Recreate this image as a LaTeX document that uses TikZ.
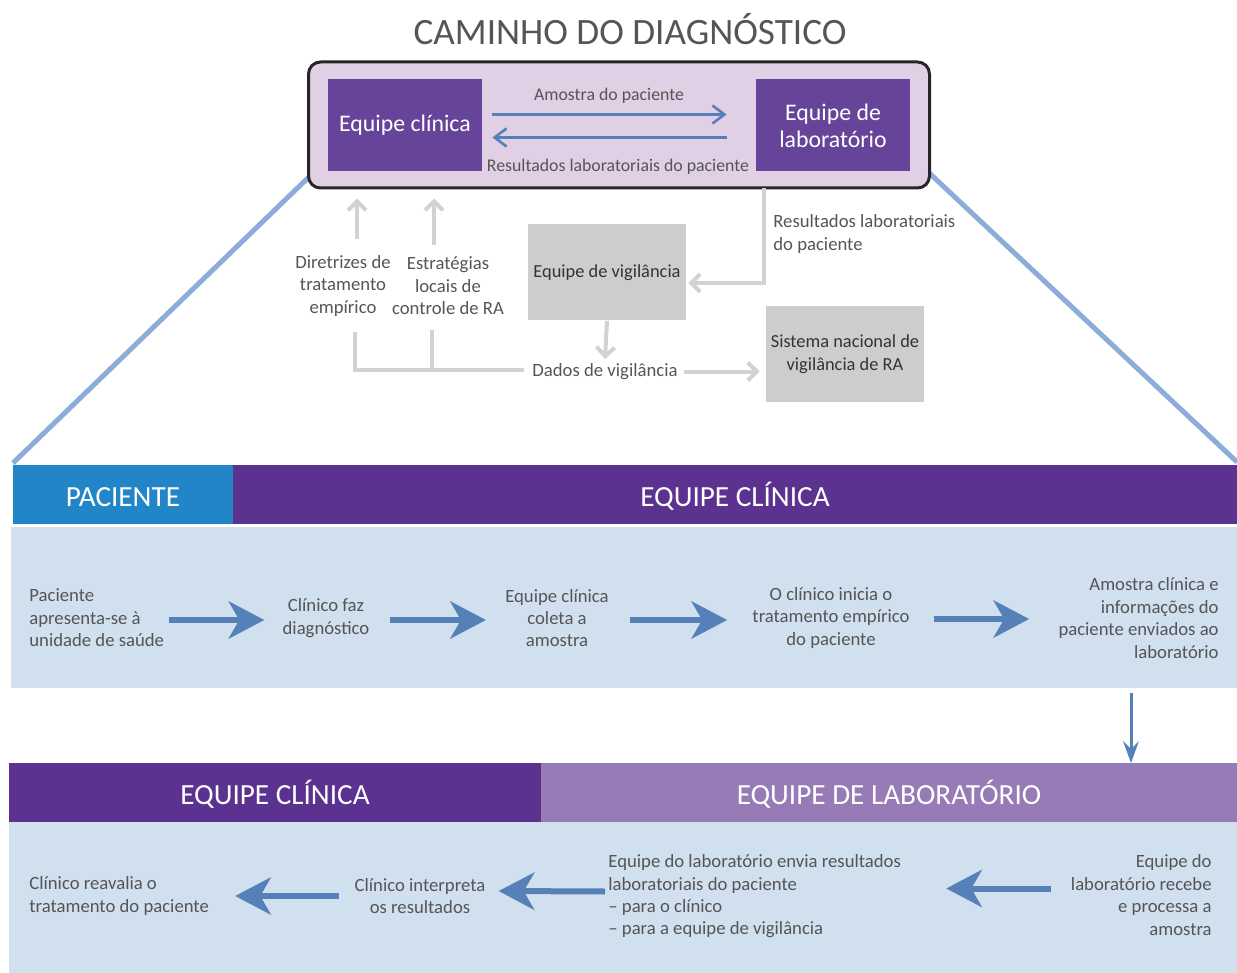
\documentclass[tikz,border=0pt]{standalone}
\usepackage{fontspec}
\setmainfont{Carlito}
\usetikzlibrary{calc,arrows.meta,positioning}

\definecolor{titlegray}{HTML}{555555}
\definecolor{textgray}{HTML}{555555}
\definecolor{boxpurple}{HTML}{65449A}
\definecolor{framefill}{HTML}{E1CFE6}
\definecolor{hdrblue}{HTML}{2285C8}
\definecolor{hdrpurple}{HTML}{5C3291}
\definecolor{hdrlilac}{HTML}{967BB6}
\definecolor{panelblue}{HTML}{D0E0EE}
\definecolor{arrowblue}{HTML}{5680B8}
\definecolor{zoomblue}{HTML}{8CACDA}
\definecolor{linegray}{HTML}{D2D2D2}
\definecolor{boxgray}{HTML}{CDCDCD}

\newdimen\px \px=0.5pt

\tikzset{
  txt/.style={text=textgray, font=\fontsize{9.35}{11.2}\selectfont, inner sep=0pt, align=center},
  smalltxt/.style={txt, font=\fontsize{8.9}{11.2}\selectfont},
  hdr/.style={text=white, font=\fontsize{14.6}{16}\selectfont, inner sep=0pt, outer sep=0pt,
    text height=11.7pt, text depth=0pt, minimum height=59\px},
  panel/.style={fill=panelblue, inner sep=0pt},
  teambox/.style={fill=boxpurple, text=white, font=\fontsize{11.9}{13.5}\selectfont, align=center,
    inner sep=0pt, minimum width=154\px, minimum height=92\px},
  graybox/.style={fill=boxgray, text=black!80, font=\fontsize{9.2}{11.2}\selectfont, align=center,
    inner sep=0pt, minimum width=158\px, minimum height=96\px},
  flow/.style={draw=arrowblue, line width=3pt, -{Stealth[length=18pt,width=19pt,inset=5.5pt,line width=0pt]}},
  downflow/.style={draw=arrowblue, line width=1.5pt, -{Stealth[length=11pt,width=8pt,inset=4pt,line width=0pt]}},
  thinflow/.style={draw=arrowblue, line width=1.3pt, -{Straight Barb[length=6pt,width=9pt]}},
  grayline/.style={draw=linegray, line width=2pt},
  grayflow/.style={grayline, -{Straight Barb[length=4.5pt,width=9pt]}},
}

\begin{document}
\begin{tikzpicture}[x=0.5pt,y=-0.5pt]
  \useasboundingbox (0,0) rectangle (1237,973);

  %% Title and the zoomed frame
  \node[text=titlegray, font=\fontsize{18.6}{22}\selectfont, inner sep=0pt] (title) at (630,29.5) {CAMINHO DO DIAGNÓSTICO};
  \coordinate (zoomL) at (13,463);
  \coordinate (zoomR) at (1237,462);
  \draw[zoomblue, line width=2.5pt] (zoomL) -- (312,174);
  \draw[zoomblue, line width=2.5pt] (zoomR) -- (926,170);
  \node[draw=black!85, line width=1.5pt, fill=framefill, rounded corners=6pt,
    minimum width=621\px, minimum height=126\px] (frame) at (619,125) {};
  \node[teambox] (clin) at (405,125.5) {Equipe clínica};
  \node[teambox] (lab) at (833,125.5) {Equipe de\\laboratório};
  \draw[thinflow] ($(clin.east)+(10,-11)$) -- ($(lab.west)+(-29,-11)$);
  \draw[thinflow] ($(lab.west)+(-29,12)$) -- ($(clin.east)+(10,12)$);
  \node[smalltxt] (amostra) at (609,96) {Amostra do paciente};
  \node[smalltxt] (result) at (618,167) {Resultados laboratoriais do paciente};

  %% Surveillance part (gray)
  \node[graybox] (vig) at (607,272.5) {Equipe de vigilância};
  \node[graybox] (sis) at (845,354) {Sistema nacional de\\vigilância de RA};
  \node[txt] (diret) at (343,286) {Diretrizes de\\tratamento\\empírico};
  \node[txt] (estrat) at (448,286) {Estratégias\\locais de\\controle de RA};
  \node[txt] (dados) at (605,371.5) {Dados de vigilância};
  \node[txt, align=left, anchor=west] (reslab) at (773,234) {Resultados laboratoriais\\do paciente};
  \coordinate (labout) at (764,188);

  \draw[grayflow, shorten >=4.5pt] ([xshift=7pt,yshift=8pt]diret.north) -- ([xshift=7pt]diret.north |- frame.south);
  \draw[grayflow, shorten >=4.5pt] ([xshift=-7pt,yshift=6pt]estrat.north) -- ([xshift=-7pt]estrat.north |- frame.south);
  \draw[grayline] ([xshift=6pt,yshift=-7.5pt]diret.south) |- ([xshift=-4pt,yshift=1pt]dados.west);
  \draw[grayline] ([xshift=-8pt,yshift=-7.5pt]estrat.south) -- ([xshift=-8pt,yshift=1pt]estrat.south |- dados.west);
  \draw[grayflow] (vig.south) -- ([yshift=2pt]dados.north);
  \draw[grayflow] ([xshift=3pt]dados.east) -- ([xshift=-3pt]sis.west |- dados.east);
  \draw[grayflow] (labout) |- ([xshift=1pt,yshift=-5.25pt]vig.east);

  %% First stage: patient and clinical team
  \node[hdr, fill=hdrblue, minimum width=220\px] (hpac) at (123,494.5) {PACIENTE};
  \node[hdr, fill=hdrpurple, minimum width=1004\px, anchor=west] (hclin) at (hpac.east) {EQUIPE CLÍNICA};
  \node[panel, minimum width=1226\px, minimum height=161\px] (panelA) at (624,607.5) {};
  \node[txt, align=left, anchor=west] (s1) at (29,618) {Paciente\\apresenta-se à\\unidade de saúde};
  \node[txt] (s2) at (326,618) {Clínico faz\\diagnóstico};
  \node[txt] (s3) at (557,618) {Equipe clínica\\coleta a\\amostra};
  \node[txt] (s4) at (831,618) {O clínico inicia o\\tratamento empírico\\do paciente};
  \node[txt, align=right, anchor=east] (s5) at (1219,618) {Amostra clínica e\\informações do\\paciente enviados ao\\laboratório};
  \draw[flow] ([xshift=2.5pt,yshift=-1pt]s1.east) -- ([xshift=-9pt,yshift=-1pt]s2.west);
  \draw[flow] ([xshift=10pt,yshift=-1pt]s2.east) -- ([xshift=-9.5pt,yshift=-1pt]s3.west);
  \draw[flow] ([xshift=10.5pt,yshift=-1pt]s3.east) -- ([xshift=-12.5pt,yshift=-1pt]s4.west);
  \draw[flow] ([xshift=12pt,yshift=-0.5pt]s4.east) -- ([xshift=-14.5pt,yshift=-0.5pt]s5.west);

  %% Second stage: laboratory and clinical team
  \node[hdr, fill=hdrpurple, minimum width=532\px] (hcl2) at (275,792.5) {EQUIPE CLÍNICA};
  \node[hdr, fill=hdrlilac, minimum width=696\px, anchor=west] (hlab) at (hcl2.east) {EQUIPE DE LABORATÓRIO};
  \node[panel, minimum width=1228\px, minimum height=151\px] (panelB) at (623,897.5) {};
  \coordinate (downx) at (1131,0);
  \draw[downflow] (panelA.south -| downx) ++(0,5) -- (hlab.north -| downx);
  \node[txt, align=left, anchor=west] (t1) at (29,896) {Clínico reavalia o\\tratamento do paciente};
  \node[txt] (t2) at (420,896) {Clínico interpreta\\os resultados};
  \node[txt, align=left, anchor=west] (t3) at (608,896.5) {Equipe do laboratório envia resultados\\laboratoriais do paciente\\– para o clínico\\– para a equipe de vigilância};
  \node[txt, align=right, anchor=east] (t4) at (1212,895) {Equipe do\\laboratório recebe\\e processa a\\amostra};
  \draw[flow] ([xshift=-10pt,yshift=3.25pt]t4.west) -- ([xshift=22.5pt,yshift=4pt]t3.east);
  \draw[flow] ([xshift=-1.5pt,yshift=2.5pt]t3.west) -- ([xshift=6.5pt,yshift=2.5pt]t2.east);
  \draw[flow] ([xshift=-7.5pt]t2.west) -- ([xshift=13pt]t1.east);
\end{tikzpicture}
\end{document}
